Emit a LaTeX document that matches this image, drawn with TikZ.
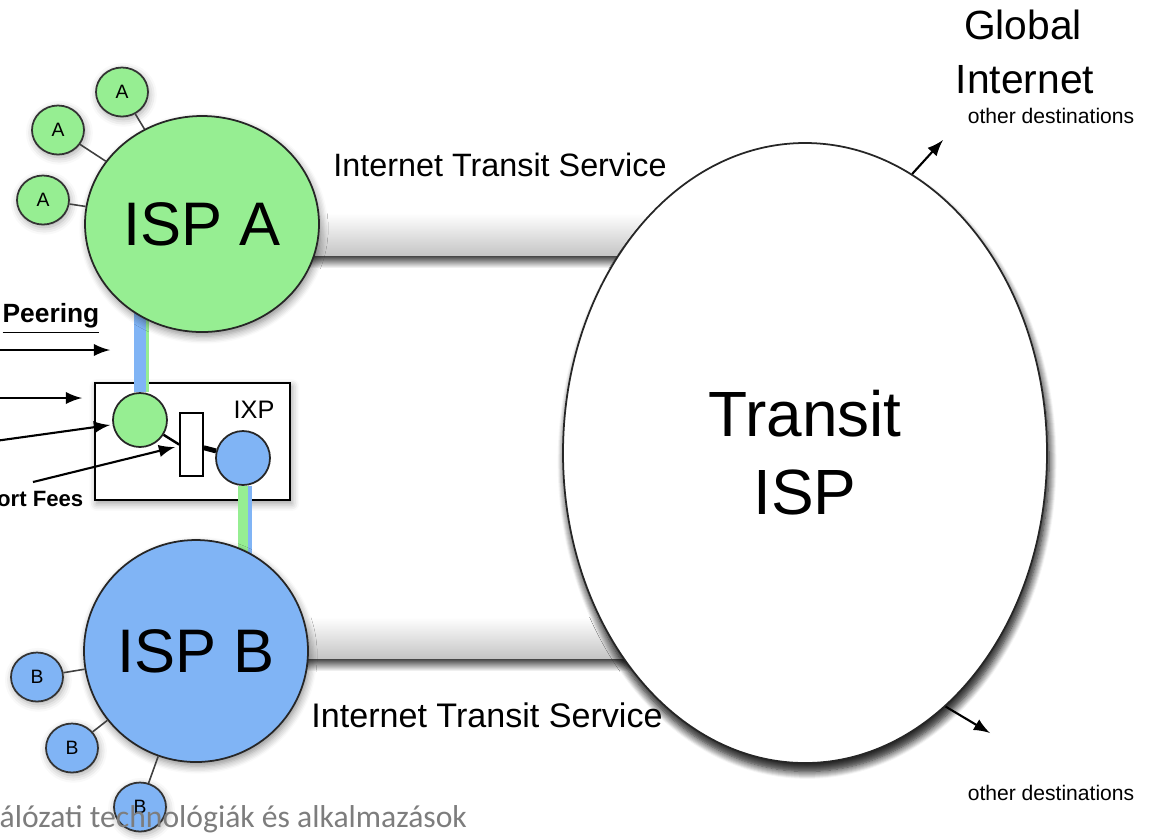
\documentclass[tikz,border=0pt]{standalone}
\usepackage{fontspec}
\setmainfont{Liberation Sans}
\newfontfamily\footfont{Carlito}
\usetikzlibrary{arrows,positioning,shapes.geometric,shadows.blur,backgrounds}
\definecolor{ispgreen}{RGB}{150,238,146}
\definecolor{ispblue}{RGB}{128,180,245}
\definecolor{footgray}{RGB}{125,125,125}

\begin{document}
\begin{tikzpicture}[
	isp/.style={ellipse, draw=black!85, line width=0.5pt, inner sep=0pt,
		blur shadow={shadow xshift=0.5pt, shadow yshift=-1.2pt, shadow blur steps=6, shadow opacity=45}},
	cust/.style={ellipse, draw=black!80, line width=0.5pt, inner sep=0pt,
		minimum width=0.52cm, minimum height=0.49cm, font=\fontsize{5.5}{6}\selectfont,
		blur shadow={shadow xshift=0.4pt, shadow yshift=-0.8pt, shadow blur steps=4, shadow opacity=35}},
	port/.style={circle, draw=black!85, line width=0.5pt, inner sep=0pt, minimum size=0.54cm},
	custlink/.style={draw=black!75, line width=0.45pt},
	note/.style={-latex, line width=0.6pt}
]
	\useasboundingbox (0,0) rectangle (11.49,-8.39);
	% Draw the three ISPs
	\node[isp, fill=ispgreen, minimum width=2.34cm, minimum height=2.16cm,
		font=\fontsize{17.5}{20}\selectfont] (ispa) at (2.02,-2.24) {ISP A};
	\node[isp, fill=ispblue, minimum width=2.24cm, minimum height=2.22cm,
		font=\fontsize{17.5}{20}\selectfont] (ispb) at (1.96,-6.51) {ISP B};
	\node[isp, fill=white, minimum width=4.84cm, minimum height=6.20cm, align=center,
		font=\fontsize{18.2}{22.2}\selectfont,
		blur shadow={shadow xshift=0.6pt, shadow yshift=-2.4pt, shadow blur steps=8, shadow opacity=60}]
		(tisp) at (8.05,-4.53) {Transit\\ISP};
	% Customers of ISP A and ISP B
	\node[cust, fill=ispgreen] (a1) at (1.22,-0.92) {A};
	\node[cust, fill=ispgreen] (a2) at (0.58,-1.30) {A};
	\node[cust, fill=ispgreen] (a3) at (0.43,-2.00) {A};
	\node[cust, fill=ispblue] (b1) at (0.37,-6.77) {B};
	\node[cust, fill=ispblue] (b2) at (0.72,-7.48) {B};
	\node[cust, fill=ispblue] (b3) at (1.40,-8.07) {B};
	\foreach \c in {a1,a2,a3} \draw[custlink] (\c) -- (ispa);
	\foreach \c in {b1,b2,b3} \draw[custlink] (\c) -- (ispb);
	% The exchange point
	\node[port, fill=ispgreen] (gport) at (1.40,-4.20) {};
	\node[port, fill=ispblue] (bport) at (2.43,-4.58) {};
	\node[draw, fill=white, line width=0.5pt, inner sep=0pt, minimum width=0.23cm,
		minimum height=0.63cm] (switch) at (1.915,-4.445) {};
	\node[anchor=base, font=\fontsize{7.2}{8}\selectfont] (ixplbl) at (2.54,-4.18) {IXP};
	\draw[line width=0.7pt] (gport) -- (switch.west);
	\draw[line width=1.4pt] (switch) -- (bport);
	\begin{pgfonlayer}{background}
		\node[draw, fill=white, line width=0.5pt, minimum width=1.95cm, minimum height=1.17cm,
			blur shadow={shadow xshift=0.5pt, shadow yshift=-1pt, shadow blur steps=5, shadow opacity=40}]
			(ixp) at (1.925,-4.415) {};
		% Peering links
		\draw[ispblue, line width=3.4pt] (gport.north) -- (gport.north |- ispa.center);
		\draw[ispgreen, line width=0.9pt] ([xshift=2.1pt]gport.north) -- ([xshift=2.1pt]gport.north |- ispa.center);
		\draw[ispgreen, line width=2.9pt] (bport.south) -- (bport.south |- ispb.center);
		\draw[ispblue, line width=0.9pt] ([xshift=2pt]bport.south) -- ([xshift=2pt]bport.south |- ispb.center);
		% Transit pipes
		\shade[top color=black!90, bottom color=white] (3.0,-2.53) rectangle (7.0,-2.68);
		\shade[top color=white, bottom color=gray!45] (3.0,-2.13) rectangle (7.0,-2.55);
		\shade[top color=black!90, bottom color=white] (3.0,-6.56) rectangle (7.0,-6.71);
		\shade[top color=white, bottom color=gray!45] (3.0,-6.17) rectangle (7.0,-6.58);
	\end{pgfonlayer}
	% Labels
	\node[anchor=base, font=\fontsize{9.2}{11}\selectfont] (tslbl1) at (5.00,-1.76) {Internet Transit Service};
	\node[anchor=base, font=\fontsize{9.7}{11}\selectfont] (tslbl2) at (4.87,-7.27) {Internet Transit Service};
	\node[anchor=base, font=\fontsize{11.6}{13}\selectfont] (glob) at (10.23,-0.39) {Global};
	\node[anchor=base, font=\fontsize{11.6}{13}\selectfont] (inet) at (10.25,-0.93) {Internet};
	\node[anchor=base, font=\fontsize{6}{7}\selectfont] (dest1) at (10.51,-1.23) {other destinations};
	\node[anchor=base, font=\fontsize{6}{7}\selectfont] (dest2) at (10.51,-8.00) {other destinations};
	\coordinate (out1) at (9.43,-1.40);
	\coordinate (out2) at (9.90,-7.33);
	\draw[note] (tisp.69) -- (out1);
	\draw[note] (tisp.-61) -- (out2);
	% Peering notes on the left
	\node[anchor=base east, inner sep=0pt, font=\bfseries\fontsize{7.5}{9}\selectfont] (peer) at (1.00,-3.22) {\underline{Peering}};
	\node[anchor=base east, inner sep=0pt, font=\bfseries\fontsize{6.3}{8}\selectfont] (fees) at (0.84,-5.06) {ort Fees};
	\coordinate (n1s) at (-0.05,-3.50); \coordinate (n1e) at (1.10,-3.50);
	\coordinate (n2s) at (-0.05,-3.98); \coordinate (n2e) at (0.82,-3.98);
	\coordinate (n3s) at (-0.05,-4.41); \coordinate (n3e) at (1.10,-4.25);
	\coordinate (n4s) at (0.33,-4.82);  \coordinate (n4e) at (1.75,-4.47);
	\foreach \n in {1,...,4} \draw[note] (n\n s) -- (n\n e);
	% Footer
	\node[anchor=base west, inner sep=0pt, text=footgray, font=\footfont\fontsize{9}{11}\selectfont]
		(foot) at (-0.01,-8.27) {álózati technológiák és alkalmazások};
\end{tikzpicture}
\end{document}
